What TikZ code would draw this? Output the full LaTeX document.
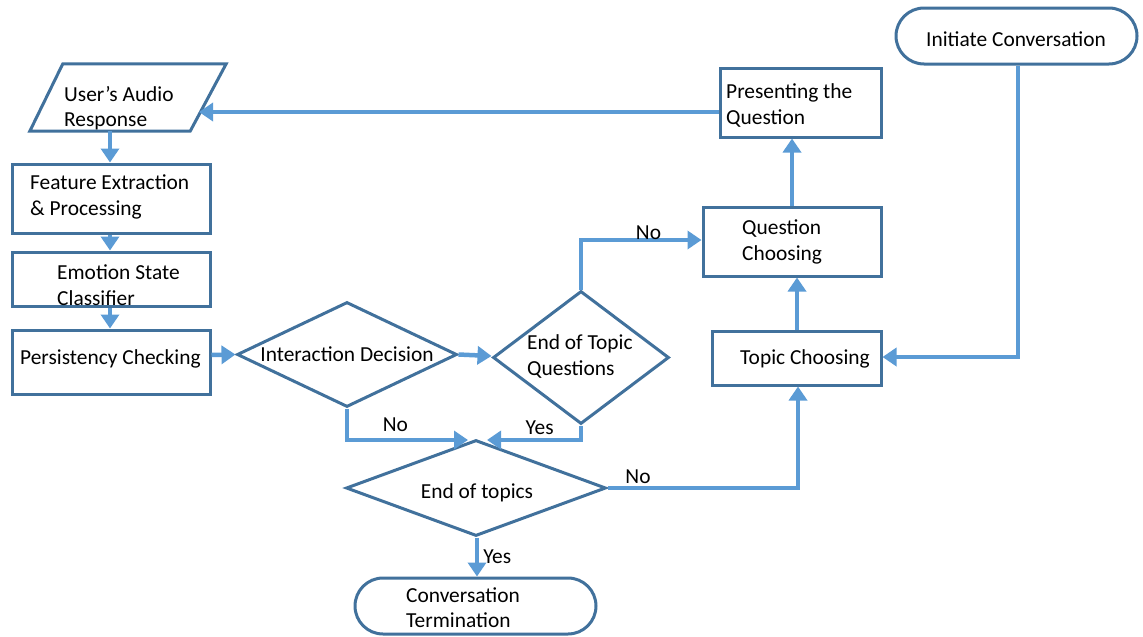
\documentclass[tikz,border=0pt]{standalone}
\usepackage{fontspec}
\setmainfont{Carlito}
\usetikzlibrary{arrows.meta,shapes.geometric,calc}
\definecolor{edgeblue}{HTML}{41719C}
\definecolor{flowblue}{HTML}{5B9BD5}
\begin{document}
\begin{tikzpicture}[x=1pt,y=-1pt,
  font=\fontsize{21.4}{25.5}\selectfont,
  box/.style={draw=edgeblue,line width=3pt,fill=white,inner sep=0pt},
  decision/.style={shape=diamond,draw=edgeblue,line width=3pt,fill=white,inner sep=0pt},
  terminal/.style={draw=edgeblue,line width=3pt,fill=white,inner sep=0pt,rounded corners=28pt},
  txt/.style={inner sep=0pt,align=left,text=black,yshift=-2pt},
  flow/.style={draw=flowblue,line width=4.5pt,-{Triangle[length=14pt,width=18pt]}},
  lbl/.style={inner sep=0pt,text=black}]
\useasboundingbox (0,0) rectangle (1143,637);

% terminals
\node[terminal,minimum width=241pt,minimum height=56pt] (ic) at (1016.5,36) {};
\node[txt] (ict) at (1016,37) {Initiate Conversation};
\node[terminal,minimum width=241pt,minimum height=56pt] (ct) at (475.5,606) {};
\node[txt,anchor=west] (ctt) at (406,605.5) {Conversation\\Termination};

% input parallelogram
\node[inner sep=0pt,minimum width=196pt,minimum height=67pt] (ua) at (128,97.5) {};
\draw[edgeblue,line width=3pt,fill=white,line join=miter]
  ($(ua.north west)+(33,0)$) -- (ua.north east) -- ($(ua.south east)+(-36,0)$) -- (ua.south west) -- cycle;
\node[txt,anchor=west] (uat) at (64,106) {User’s Audio\\Response};
\coordinate (uaR) at (199,112);

% process boxes
\node[box,minimum width=161pt,minimum height=69pt] (pq) at (800.5,102.5) {};
\node[txt,anchor=west] (pqt) at (726,103.5) {Presenting the\\Question};
\node[box,minimum width=198pt,minimum height=69pt] (feat) at (111,198.5) {};
\node[txt,anchor=west] (featt) at (30,195) {Feature Extraction\\\& Processing};
\node[box,minimum width=198pt,minimum height=54pt] (emo) at (111,279) {};
\node[txt,anchor=west] (emot) at (57,283) {Emotion State\\Classifier};
\node[box,minimum width=198pt,minimum height=64pt] (per) at (111,362) {};
\node[txt,anchor=west] (pert) at (20,357) {Persistency Checking};
\node[box,minimum width=178pt,minimum height=69pt] (qc) at (792,241.5) {};
\node[txt,anchor=west] (qct) at (742,240) {Question\\Choosing};
\node[box,minimum width=169pt,minimum height=54pt] (tc) at (796.5,358) {};
\node[txt,anchor=west] (tct) at (740,357) {Topic Choosing};

% decisions
\node[decision,minimum width=220pt,minimum height=105pt] (id) at (347,354.5) {};
\node[txt] (idt) at (347,352) {Interaction Decision};
\node[decision,minimum width=176pt,minimum height=133pt] (eq) at (581,357.5) {};
\node[txt,anchor=west] (eqt) at (527,354.5) {End of Topic\\Questions};
\node[decision,minimum width=260pt,minimum height=96pt] (et) at (476,488) {};
\node[txt] (ett) at (477,491) {End of topics};

% connectors
\draw[flow] ([yshift=-9.5pt]pq.west) -- (uaR);
\draw[flow] (ua.south -| 110,0) -- (feat.north -| 110,0);
\draw[flow] (feat.south -| 110,0) -- (emo.north -| 110,0);
\draw[flow] (emo.south -| 110,0) -- (per.north -| 110,0);
\draw[flow] (per.east |- 0,355) -- (id.west);
\draw[flow] (id.east) -- (eq.west |- 0,356);
\draw[flow] (id.south) |- (468,440) node[lbl,pos=0.70,above=6pt] (no1) {No};
\draw[flow] (eq.south) |- (487,440) node[lbl,pos=0.72,above=3pt] (yes1) {Yes};
\draw[flow] (eq.north) |- (qc.west |- 0,240) node[lbl,pos=0.78,above=-2pt] (no2) {No};
\draw[flow] (qc.north) -- (pq.south -| qc.north);
\draw[flow] (tc.north -| 797,0) -- (qc.south -| 797,0);
\draw[flow] (et.east) -| (tc.south -| 798,0) node[lbl,pos=0.08,above=2pt] (no3) {No};
\draw[flow] (et.south -| 477,0) -- (ct.north -| 477,0) node[lbl,midway,right=4pt] (yes2) {Yes};
\draw[flow] (ic.south -| 1018,0) |- (tc.east |- 0,357);
\end{tikzpicture}
\end{document}
